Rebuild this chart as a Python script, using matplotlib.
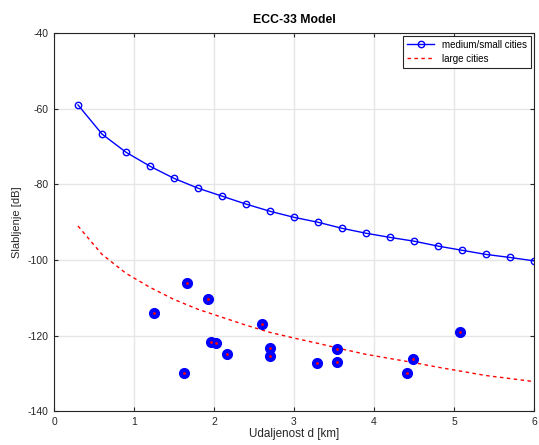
import matplotlib
matplotlib.use("Agg")
import matplotlib.pyplot as plt

# ECC-33 model curves, distance in km
d = [0.3, 0.6, 0.9, 1.2, 1.5, 1.8, 2.1, 2.4, 2.7, 3.0,
     3.3, 3.6, 3.9, 4.2, 4.5, 4.8, 5.1, 5.4, 5.7, 6.0]
medium_small = [-59.0, -66.7, -71.5, -75.2, -78.4, -81.0, -83.1, -85.2, -87.1, -88.7,
                -90.0, -91.6, -92.9, -94.0, -95.0, -96.3, -97.4, -98.5, -99.3, -100.2]
large = [-91.0, -98.5, -103.5, -107.2, -110.4, -113.0, -115.1, -117.2, -119.1, -120.6,
         -122.0, -123.5, -124.9, -126.0, -127.1, -128.3, -129.4, -130.5, -131.3, -132.1]

# measured points
meas_d = [1.25, 1.66, 1.93, 1.63, 1.96, 2.02, 2.16, 2.60,
          2.70, 2.70, 3.29, 3.54, 3.54, 4.41, 4.49, 5.08]
meas_L = [-113.9, -106.1, -110.4, -129.9, -121.7, -122.0, -124.7, -116.8,
          -123.3, -125.4, -127.3, -123.6, -127.0, -129.9, -126.2, -119.1]

plt.rcParams['font.family'] = ['Liberation Sans', 'DejaVu Sans']
plt.rcParams['font.size'] = 7.5
plt.rcParams['axes.unicode_minus'] = False

fig = plt.figure(figsize=(5.39, 4.45), dpi=100)
ax = fig.add_axes([0.1002, 0.0753, 0.8905, 0.8505])

ax.plot(d, medium_small, color='#0000ff', linewidth=1.0, marker='o', markersize=4.6,
        markerfacecolor='none', markeredgewidth=1.0, label='medium/small cities')
ax.plot(d, large, color='#ff0000', linestyle=(0, (2.5, 2.5)), linewidth=1.0, label='large cities')
ax.plot(meas_d, meas_L, linestyle='none', marker='o', markersize=7,
        color='#0000ff', markeredgecolor='#0000ff')
ax.plot(meas_d, meas_L, linestyle='none', marker='.', markersize=2, color='#ff0000')

ax.set_xlim(0, 6)
ax.set_ylim(-140, -40)
ax.set_xticks(range(0, 7))
ax.set_yticks(range(-140, -39, 20))
ax.grid(True, color='#e6e6e6', linewidth=1.0)
ax.set_axisbelow(True)
for s in ax.spines.values():
    s.set_color('#262626')
    s.set_linewidth(0.8)
ax.tick_params(direction='in', top=True, right=True, length=3, colors='#262626',
               labelcolor='#262626', pad=4)

ax.set_title('ECC-33 Model', fontweight='bold', fontsize=8.8, pad=7)
ax.set_xlabel('Udaljenost d [km]', fontsize=8.4, labelpad=1, color='#262626')
ax.set_ylabel('Slabljenje [dB]', fontsize=8, labelpad=4, color='#262626')

leg = ax.legend(loc='upper right', fontsize=7, fancybox=False, framealpha=1,
                edgecolor='#262626', handlelength=2.8, borderaxespad=0.3,
                labelspacing=0.4)
leg.get_frame().set_linewidth(0.8)

fig.savefig('out.png', dpi=100)
